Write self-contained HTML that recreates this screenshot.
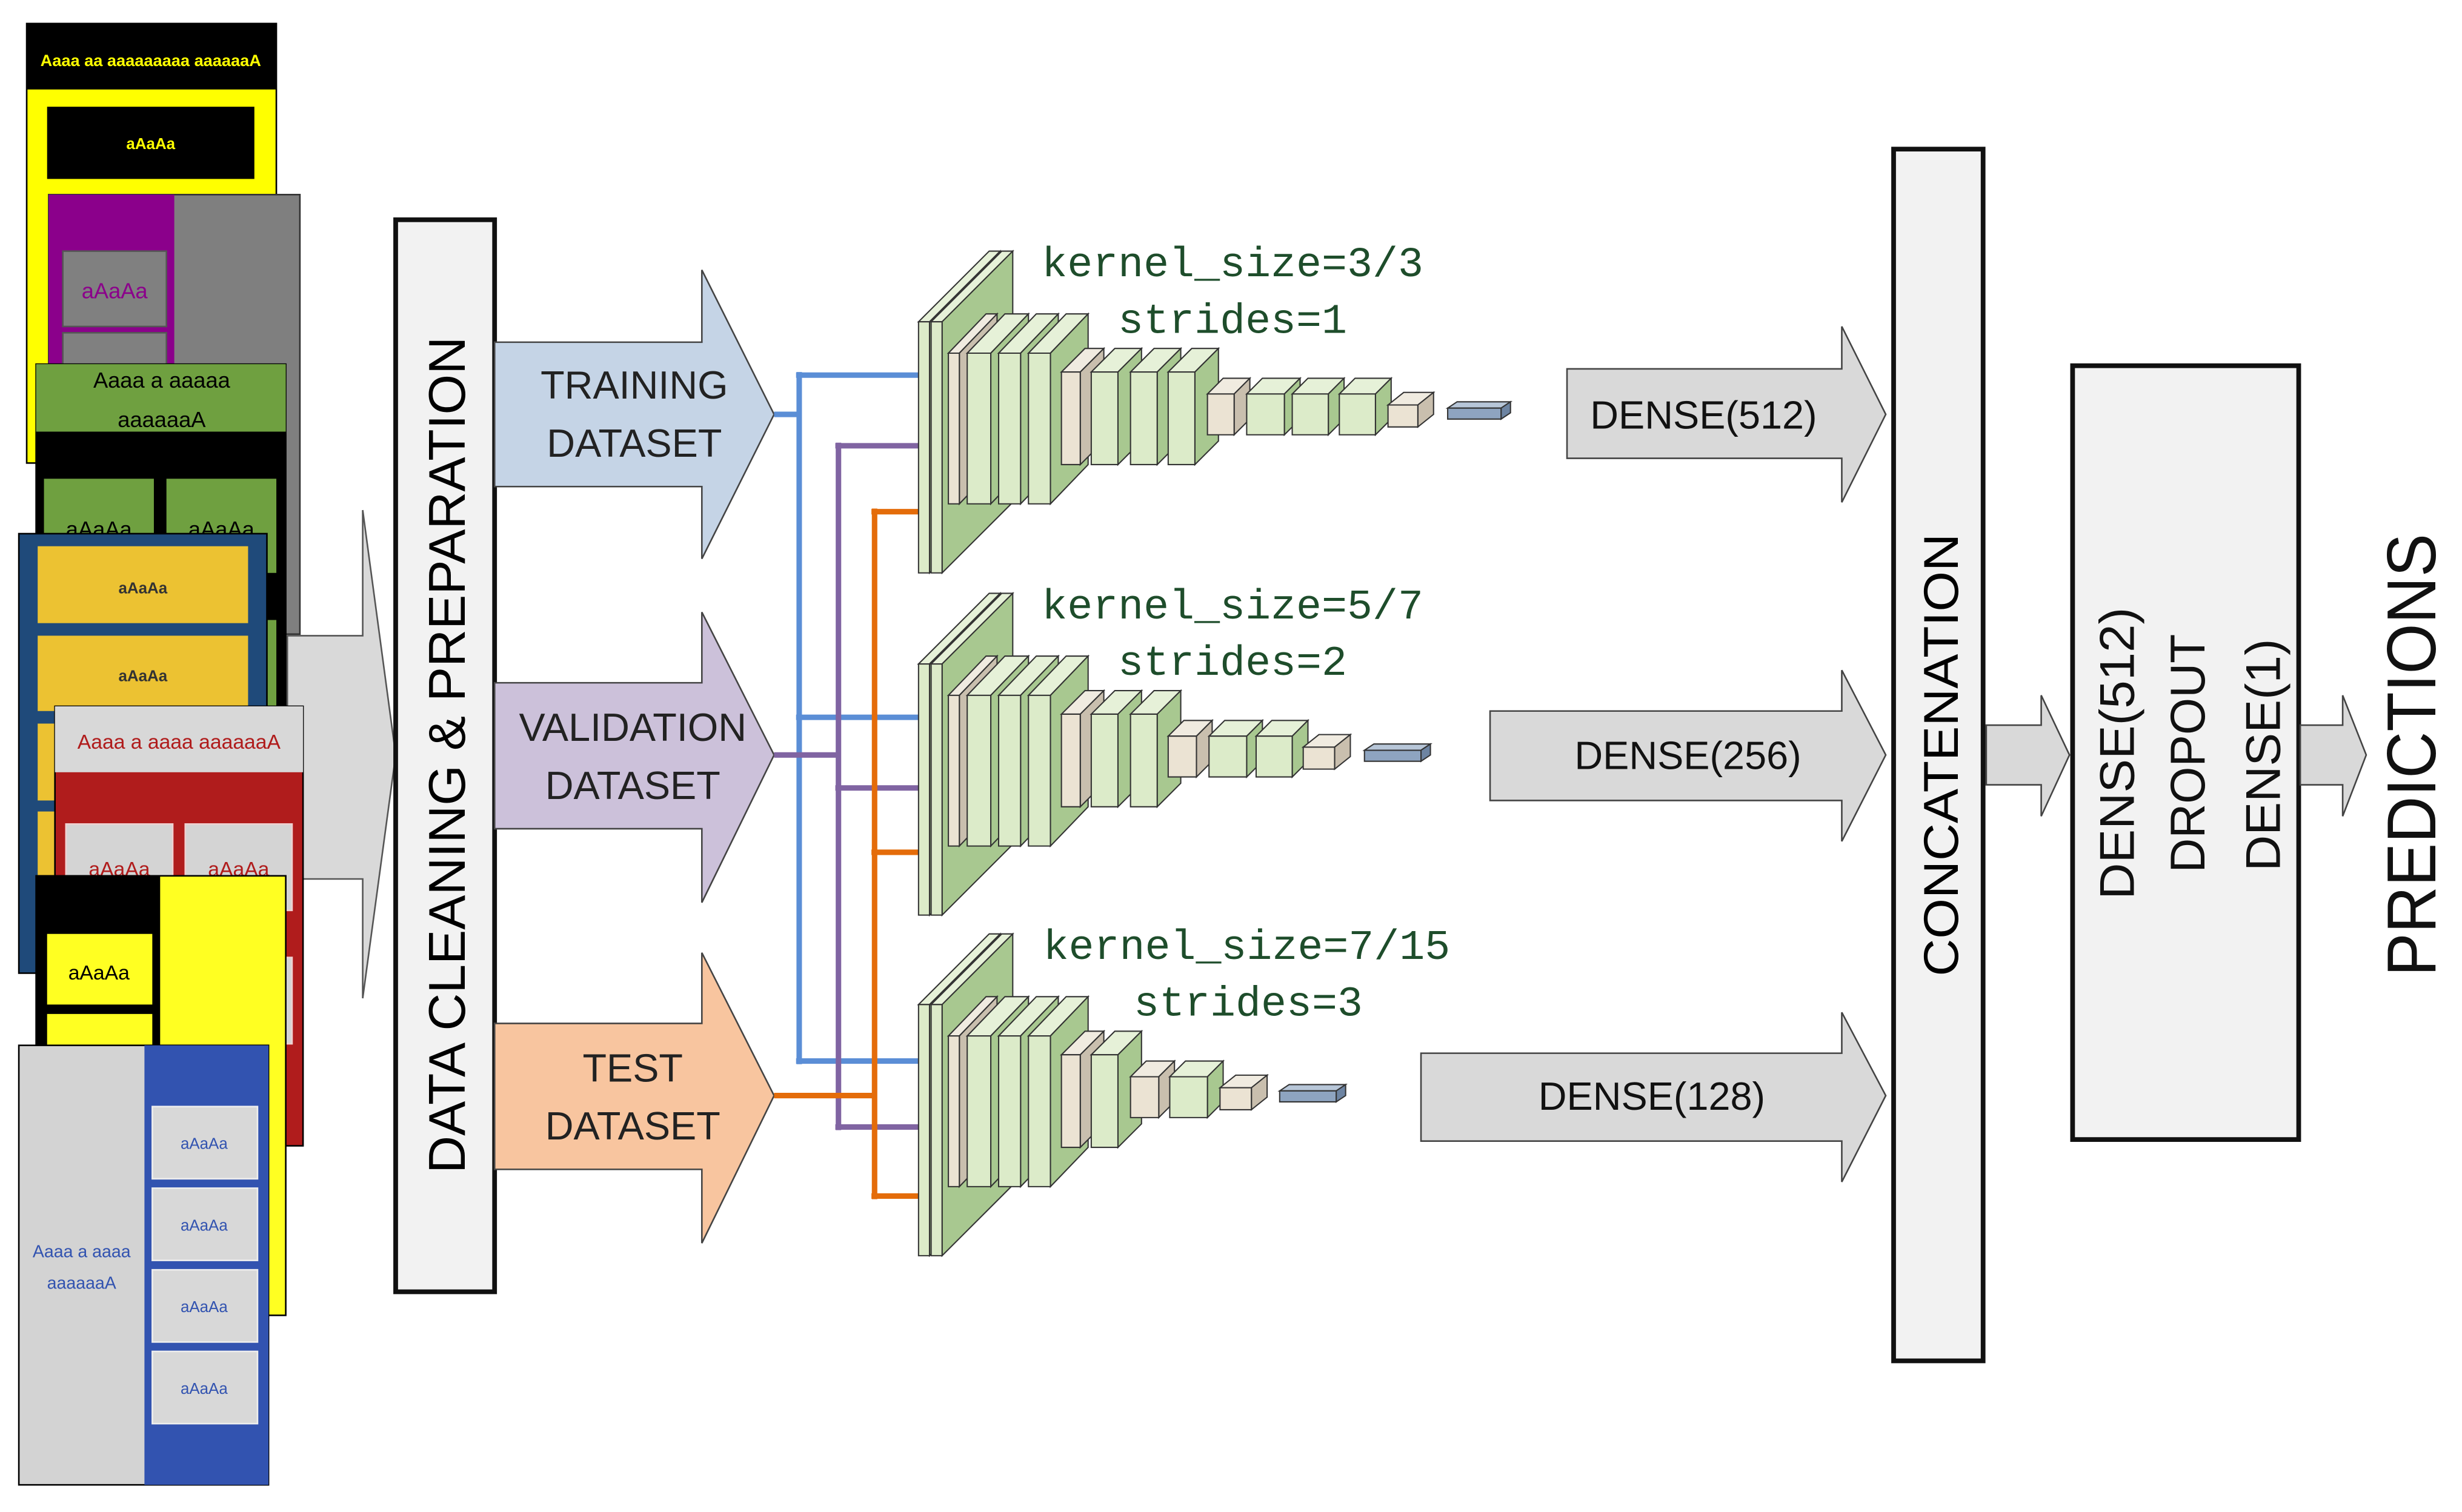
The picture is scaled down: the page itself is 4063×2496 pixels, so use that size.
<!DOCTYPE html>
<html><head><meta charset="utf-8"><style>
html,body{margin:0;padding:0;background:#fff;}
svg{display:block;}
.ds{font-family:"Liberation Sans",sans-serif;}
</style></head><body>
<svg id="s" xmlns="http://www.w3.org/2000/svg" width="4063" height="2496" viewBox="0 0 1568 963.3" preserveAspectRatio="none">
<rect width="1568" height="964" fill="#fff"/>
<g class="ds" text-anchor="middle" font-weight="bold">
<!-- doc1 -->
<rect x="17" y="15" width="159" height="280" fill="#ffff00" stroke="#000" stroke-width="1"/>
<rect x="17" y="15" width="159" height="42" fill="#000"/>
<text x="96" y="42" font-size="10.5" fill="#ffff00">Aaaa aa aaaaaaaaa aaaaaaA</text>
<rect x="30" y="68" width="132" height="46" fill="#000"/>
<text x="96" y="95" font-size="10" fill="#ffff00">aAaAa</text>
<!-- doc2 -->
<rect x="31" y="124" width="160" height="280" fill="#7f7f7f" stroke="#333" stroke-width="1"/>
<rect x="31" y="124" width="80" height="280" fill="#8b008b"/>
<rect x="40" y="160" width="66" height="48" fill="#808080" stroke="#555"/>
<text x="73" y="190" font-size="14" font-weight="normal" fill="#8b008b">aAaAa</text>
<rect x="40" y="212" width="66" height="40" fill="#808080" stroke="#555"/>
</g>
<!-- big gray input arrow -->
<polygon points="183,405 231,405 231,325 252,481 231,636 231,560 183,560" fill="#d9d9d9" stroke="#555" stroke-width="1"/>
<g class="ds" text-anchor="middle" font-weight="bold">
<!-- doc3 -->
<rect x="23" y="232" width="159" height="300" fill="#000" stroke="#000"/>
<rect x="23" y="232" width="159" height="43" fill="#6fa040"/>
<text x="103" y="247" font-size="14" font-weight="normal" fill="#000">Aaaa a aaaaa</text>
<text x="103" y="272" font-size="14" font-weight="normal" fill="#000">aaaaaaA</text>
<rect x="28" y="305" width="70" height="60" fill="#6fa040"/>
<rect x="106" y="305" width="70" height="60" fill="#6fa040"/>
<text x="63" y="342" font-size="14" font-weight="normal" fill="#000">aAaAa</text>
<text x="141" y="342" font-size="14" font-weight="normal" fill="#000">aAaAa</text>
<rect x="106" y="395" width="70" height="60" fill="#6fa040"/>
<!-- doc4 -->
<rect x="12" y="340" width="158" height="280" fill="#1f4a7a" stroke="#000"/>
<rect x="24" y="348" width="134" height="49" fill="#ecc232"/>
<rect x="24" y="405" width="134" height="48" fill="#ecc232"/>
<rect x="24" y="461" width="134" height="49" fill="#ecc232"/>
<rect x="24" y="517" width="134" height="49" fill="#ecc232"/>
<rect x="24" y="573" width="134" height="47" fill="#ecc232"/>
<text x="91" y="378" font-size="10" fill="#333">aAaAa</text>
<text x="91" y="434" font-size="10" fill="#333">aAaAa</text>
<!-- doc5 -->
<rect x="35" y="450" width="158" height="280" fill="#b01c1c" stroke="#000"/>
<rect x="35" y="450" width="158" height="42" fill="#d8d8d8"/>
<text x="114" y="477" font-size="13" font-weight="normal" fill="#b01c1c">Aaaa a aaaa aaaaaaA</text>
<rect x="42" y="525" width="68" height="55" fill="#d4d4d4" stroke="#f0d0d0"/>
<rect x="118" y="525" width="68" height="55" fill="#d4d4d4" stroke="#f0d0d0"/>
<text x="76" y="558" font-size="13" font-weight="normal" fill="#b01c1c">aAaAa</text>
<text x="152" y="558" font-size="13" font-weight="normal" fill="#b01c1c">aAaAa</text>
<rect x="118" y="610" width="68" height="55" fill="#d4d4d4" stroke="#f0d0d0"/>
<!-- doc6 -->
<rect x="23" y="558" width="159" height="280" fill="#ffff22" stroke="#000"/>
<rect x="23" y="558" width="79" height="280" fill="#000"/>
<rect x="30" y="595" width="67" height="45" fill="#ffff22"/>
<text x="63" y="624" font-size="13" font-weight="normal" fill="#000">aAaAa</text>
<rect x="30" y="646" width="67" height="45" fill="#ffff22"/>
<!-- doc7 -->
<rect x="12" y="666" width="159" height="280" fill="#d3d3d3" stroke="#000"/>
<rect x="92" y="666" width="79" height="280" fill="#3253b0"/>
<rect x="97" y="705" width="67" height="46" fill="#d8d8d8" stroke="#eee"/>
<rect x="97" y="757" width="67" height="46" fill="#d8d8d8" stroke="#eee"/>
<rect x="97" y="809" width="67" height="46" fill="#d8d8d8" stroke="#eee"/>
<rect x="97" y="861" width="67" height="46" fill="#d8d8d8" stroke="#eee"/>
<g font-size="10" font-weight="normal" fill="#3253b0">
<text x="130" y="732">aAaAa</text><text x="130" y="784">aAaAa</text><text x="130" y="836">aAaAa</text><text x="130" y="888">aAaAa</text>
<text x="52" y="801" font-size="11">Aaaa a aaaa</text><text x="52" y="821" font-size="11">aaaaaaA</text>
</g>
</g>

<!-- data cleaning box -->
<rect x="252" y="140" width="63" height="683" fill="#f2f2f2" stroke="#111" stroke-width="3"/>
<text transform="translate(296,481) rotate(-90)" text-anchor="middle" font-family="'Liberation Sans',sans-serif" font-size="33" textLength="533" lengthAdjust="spacingAndGlyphs">DATA CLEANING &amp; PREPARATION</text>

<!-- dataset arrows -->
<polygon points="315,218 447,218 447,172 493,264 447,356 447,310 315,310" fill="#c5d4e6" stroke="#444" stroke-width="1"/>
<polygon points="315,435 447,435 447,390 493,481 447,575 447,528 315,528" fill="#ccc1da" stroke="#444" stroke-width="1"/>
<polygon points="315,652 447,652 447,607 493,698 447,792 447,745 315,745" fill="#f8c59f" stroke="#444" stroke-width="1"/>
<g font-family="'Liberation Sans',sans-serif" font-size="25" text-anchor="middle" fill="#222">
<text x="404" y="254">TRAINING</text><text x="404" y="291">DATASET</text>
<text x="403" y="472">VALIDATION</text><text x="403" y="509">DATASET</text>
<text x="403" y="689">TEST</text><text x="403" y="726">DATASET</text>
</g>

<!-- connectors -->
<g fill="none" stroke-width="3.5">
<path d="M493,264 H509 M509,237 V678 M507,239 H585 M507,457 H585 M507,676 H585" stroke="#5b8ed6"/>
<path d="M493,481 H534 M534,282 V720 M532,284 H585 M532,502 H585 M532,718 H585" stroke="#8064a2"/>
<path d="M493,698 H557 M557,324 V764 M555,326 H585 M555,543 H585 M555,762 H585" stroke="#e46c0a"/>
</g>

<g id="cnn"></g>

<g font-family="'Liberation Mono',monospace" font-size="27" fill="#1e4d2b" text-anchor="middle">
<text x="785" y="176">kernel_size=3/3</text><text x="785" y="212">strides=1</text>
<text x="785" y="394">kernel_size=5/7</text><text x="785" y="430">strides=2</text>
<text x="794" y="611">kernel_size=7/15</text><text x="795" y="647">strides=3</text>
</g>

<!-- dense arrows -->
<polygon points="998,235 1173,235 1173,208 1201,264 1173,320 1173,292 998,292" fill="#d9d9d9" stroke="#444" stroke-width="1"/>
<polygon points="949,453 1173,453 1173,427 1201,481 1173,536 1173,510 949,510" fill="#d9d9d9" stroke="#444" stroke-width="1"/>
<polygon points="905,671 1173,671 1173,645 1201,698 1173,753 1173,727 905,727" fill="#d9d9d9" stroke="#444" stroke-width="1"/>
<g font-family="'Liberation Sans',sans-serif" font-size="25" text-anchor="middle" fill="#111">
<text x="1085" y="273">DENSE(512)</text>
<text x="1075" y="490">DENSE(256)</text>
<text x="1052" y="707">DENSE(128)</text>
</g>

<rect x="1206" y="95" width="57" height="772" fill="#f2f2f2" stroke="#111" stroke-width="3"/>
<text transform="translate(1247,481) rotate(-90)" text-anchor="middle" font-family="'Liberation Sans',sans-serif" font-size="31" textLength="282" lengthAdjust="spacingAndGlyphs">CONCATENATION</text>

<polygon points="1265,462 1300,462 1300,443 1318,481 1300,520 1300,500 1265,500" fill="#d9d9d9" stroke="#444" stroke-width="1"/>
<rect x="1320" y="233" width="144" height="493" fill="#f2f2f2" stroke="#111" stroke-width="3"/>
<g font-family="'Liberation Sans',sans-serif" font-size="31" text-anchor="middle" fill="#111">
<text transform="translate(1359,480) rotate(-90)" textLength="186" lengthAdjust="spacingAndGlyphs">DENSE(512)</text>
<text transform="translate(1404,480) rotate(-90)" textLength="152" lengthAdjust="spacingAndGlyphs">DROPOUT</text>
<text transform="translate(1452,481) rotate(-90)" textLength="148" lengthAdjust="spacingAndGlyphs">DENSE(1)</text>
</g>
<polygon points="1465,462 1492,462 1492,443 1507,481 1492,520 1492,500 1465,500" fill="#d9d9d9" stroke="#444" stroke-width="1"/>
<text transform="translate(1551,481) rotate(-90)" text-anchor="middle" font-family="'Liberation Sans',sans-serif" font-size="44" textLength="282" lengthAdjust="spacingAndGlyphs" fill="#111">PREDICTIONS</text>
</svg>
<script>
(function(){
var g=document.getElementById('cnn'),NS='http://www.w3.org/2000/svg';
function poly(pts,fill){var p=document.createElementNS(NS,'polygon');p.setAttribute('points',pts.map(function(a){return a.join(',')}).join(' '));p.setAttribute('fill',fill);p.setAttribute('stroke','#333');p.setAttribute('stroke-width','0.8');g.appendChild(p);}
function cube(x,y,w,h,d,dy,t){
 var F,T,S;
 if(t=='tan'){F='#ebe3d3';T='#f0ebe0';S='#c9bfae';}
 else if(t=='blue'){F='#8ea4c0';T='#b7c6d8';S='#6d84a2';}
 else {F='#dcebc9';T='#e6f1d8';S='#a8c890';}
 poly([[x,y],[x+d,y-dy],[x+w+d,y-dy],[x+w,y]],T);
 poly([[x+w,y],[x+w+d,y-dy],[x+w+d,y+h-dy],[x+w,y+h]],S);
 poly([[x,y],[x+w,y],[x+w,y+h],[x,y+h]],F);
}
function net(o,g3,g4,blue){
 cube(585,205+o,7,160,45,45,'g');
 cube(593,205+o,7,160,45,45,'g');
 var g2=[[604,7,'tan'],[616,15,'g'],[636,14,'g'],[655,14,'g']];
 g2.forEach(function(a){cube(a[0],225+o,a[1],96,24,25,a[2]);});
 g3.forEach(function(a){cube(a[0],237+o,a[1],59,15,15,a[2]);});
 g4.forEach(function(a){ if(a[3]) cube(a[0],258+o,a[1],14,10,8,a[2]); else cube(a[0],251+o,a[1],26,10,10,a[2]);});
 cube(blue[0],260+o,blue[1],7,6,4,'blue');
}
net(0,[[676,12,'tan'],[695,17,'g'],[720,17,'g'],[744,17,'g']],
 [[769,17,'tan'],[794,24,'g'],[823,23,'g'],[853,23,'g'],[884,19,'tan',1]],[922,34]);
net(218,[[676,12,'tan'],[695,17,'g'],[720,17,'g']],
 [[744,18,'tan'],[770,24,'g'],[800,23,'g'],[830,20,'tan',1]],[869,36]);
net(435,[[676,12,'tan'],[695,17,'g']],
 [[720,18,'tan'],[745,24,'g'],[777,20,'tan',1]],[815,36]);
})();
</script>
</body></html>
